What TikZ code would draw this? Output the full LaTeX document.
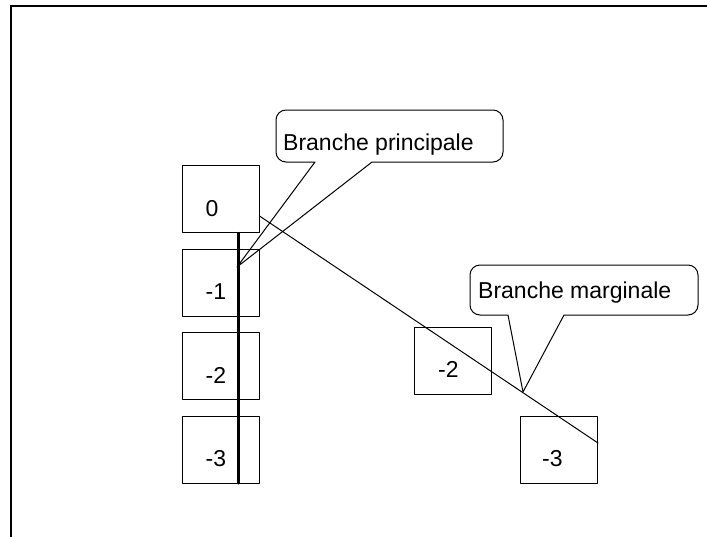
\documentclass[tikz,border=0pt]{standalone}
\usepackage{fontspec}
\setmainfont{Liberation Sans}
\usetikzlibrary{calc}
\begin{document}
\begin{tikzpicture}[line cap=round,line join=round,x=1pt,y=-1pt,
	box/.style={draw=black,line width=1pt,minimum width=77pt,minimum height=67pt,inner sep=0pt},
	num/.style={anchor=base west,inner sep=0pt,font=\fontsize{23}{27}\selectfont},
	bulle/.style={draw=black,line width=1pt},
	tige/.style={line width=2.2pt}]
	\useasboundingbox (0,0) rectangle (707,536);
	\draw[line width=2.6pt,line join=miter,line cap=butt] (11,545) -- (11,6) -- (715,6);
	\foreach \n/\y/\t in {0/199/0,1/282.5/-1,2/366/-2,3/449.5/-3}{
		\node[box] (b\n) at (220.5,\y) {};
		\node[num] (tb\n) at ([xshift=24pt,yshift=17pt]b\n.south west) {\t};
	}
	\node[box] (r2) at (453,360.5) {};
	\node[num] (tr2) at ([xshift=24pt,yshift=17pt]r2.south west) {-2};
	\node[box] (r3) at (559,449.5) {};
	\node[num] (tr3) at ([xshift=22pt,yshift=17pt]r3.south west) {-3};
	\draw[tige] ([xshift=-21pt]b0.south east) -- ([xshift=-21pt]b3.south east);
	\draw[line width=1pt] ([yshift=-17pt]b0.east) -- ([yshift=6.5pt]r3.east);
	\node[num] (tp) at (283,150) {Branche principale};
	\coordinate (pp) at (237,267);
	\draw[bulle] (pp) -- (315,162) [rounded corners=10pt] -- (276,162) -- (276,110) -- (503,110) -- (503,162) [sharp corners] -- (372,162) -- cycle;
	\node[num] (tm) at (478,298) {Branche marginale};
	\coordinate (pm) at (523,392);
	\draw[bulle] (pm) -- (508,315) [rounded corners=10pt] -- (470,315) -- (470,265) -- (698,265) -- (698,315) [sharp corners] -- (564,315) -- cycle;
\end{tikzpicture}
\end{document}
